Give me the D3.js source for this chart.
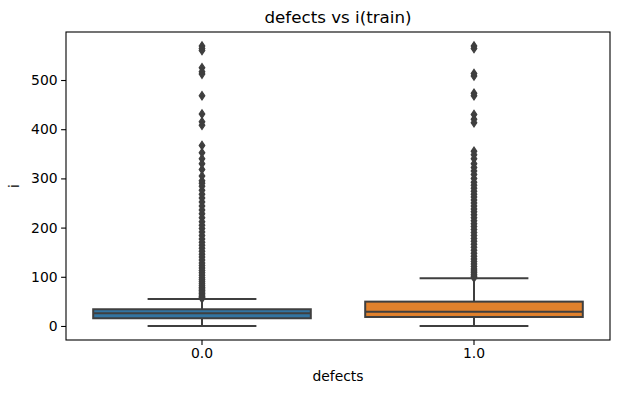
<!DOCTYPE html>
<html>
<meta charset="utf-8">
<style>
body { margin: 0; background: #fff; }
text { font-family: "DejaVu Sans", sans-serif; fill: #000; }
</style>
<body>
<script src="https://d3js.org/d3.v7.min.js"></script>
<script>
// categories and box stats
var categories = ["0.0", "1.0"];
var q1 = [15.7, 18.3];
var median = [25.8, 29];
var q3 = [34, 49.5];
var whiskLo = [0, 0];
var whiskHi = [55, 97];
var boxColors = ["#3274a1", "#e1812c"];

// fliers (estimated)
var fliers0 = [569, 564, 560, 525, 517, 512, 468, 431, 415, 408, 367, 352, 340, 330,
  318, 305, 295, 290, 284, 276, 268, 260, 252, 244, 236, 228, 220, 212, 205, 198,
  191, 184, 177, 170, 164, 158, 152, 146, 140, 134, 128, 123, 118, 113, 108, 103,
  98, 94, 90, 86, 82, 78, 75, 72, 69, 66, 63, 60, 58, 56];
var fliers1 = [569, 564, 513, 508, 473, 468, 430, 420, 413, 355, 348, 340, 330, 322,
  315, 308, 300, 292, 286, 280, 274, 268, 262, 256, 250, 244, 238, 232, 226, 220,
  214, 208, 202, 196, 190, 184, 178, 172, 166, 160, 154, 148, 142, 136, 131, 126,
  121, 116, 112, 108, 104, 101, 98];
var fliers = [fliers0, fliers1];

var yTicks = [0, 100, 200, 300, 400, 500];

var width = 618, height = 393;
var margin = {left: 66, right: 8, top: 32, bottom: 53};
var gray = "#3f3f3f";

var svg = d3.select("body").append("svg")
    .attr("width", width)
    .attr("height", height);

var x = d3.scaleBand()
    .domain(categories)
    .range([margin.left, width - margin.right]);

var y = d3.scaleLinear()
    .domain([-28.5, 597.6])
    .range([height - margin.bottom, margin.top]);

var bw = x.bandwidth();

var g = svg.selectAll(".box")
    .data(categories)
    .enter().append("g")
    .attr("class", "box");

// whiskers
g.append("line")
    .attr("x1", function(d) { return x(d) + bw / 2; })
    .attr("x2", function(d) { return x(d) + bw / 2; })
    .attr("y1", function(d, i) { return y(q3[i]); })
    .attr("y2", function(d, i) { return y(whiskHi[i]); })
    .style("stroke", gray).style("stroke-width", 2);
g.append("line")
    .attr("x1", function(d) { return x(d) + bw / 2; })
    .attr("x2", function(d) { return x(d) + bw / 2; })
    .attr("y1", function(d, i) { return y(q1[i]); })
    .attr("y2", function(d, i) { return y(whiskLo[i]); })
    .style("stroke", gray).style("stroke-width", 2);

// caps
[whiskHi, whiskLo].forEach(function(arr) {
  g.append("line")
      .attr("x1", function(d) { return x(d) + bw * 0.3; })
      .attr("x2", function(d) { return x(d) + bw * 0.7; })
      .attr("y1", function(d, i) { return y(arr[i]); })
      .attr("y2", function(d, i) { return y(arr[i]); })
      .style("stroke", gray).style("stroke-width", 2);
});

// boxes
g.append("rect")
    .attr("x", function(d) { return x(d) + bw * 0.1; })
    .attr("width", bw * 0.8)
    .attr("y", function(d, i) { return y(q3[i]); })
    .attr("height", function(d, i) { return y(q1[i]) - y(q3[i]); })
    .style("fill", function(d, i) { return boxColors[i]; })
    .style("stroke", gray).style("stroke-width", 2);

// medians
g.append("line")
    .attr("x1", function(d) { return x(d) + bw * 0.1; })
    .attr("x2", function(d) { return x(d) + bw * 0.9; })
    .attr("y1", function(d, i) { return y(median[i]); })
    .attr("y2", function(d, i) { return y(median[i]); })
    .style("stroke", gray).style("stroke-width", 2);

// fliers, thin diamonds
var diamond = "M0,-4.2L2.8,0L0,4.2L-2.8,0Z";
g.each(function(d, i) {
  d3.select(this).selectAll(".flier")
      .data(fliers[i])
      .enter().append("path")
      .attr("class", "flier")
      .attr("d", diamond)
      .attr("transform", function(v) { return "translate(" + (x(d) + bw / 2) + "," + y(v) + ")"; })
      .style("fill", gray)
      .style("stroke", gray)
      .style("stroke-width", 1.2);
});

// axes
var xAxis = svg.append("g")
    .attr("transform", "translate(0," + (height - margin.bottom) + ")")
    .call(d3.axisBottom(x).tickSize(4.9).tickPadding(3.5));
var yAxis = svg.append("g")
    .attr("transform", "translate(" + margin.left + ",0)")
    .call(d3.axisLeft(y).tickValues(yTicks).tickSize(4.9).tickPadding(3.5));

[xAxis, yAxis].forEach(function(a) {
  a.select(".domain").remove();
  a.selectAll("line").style("stroke", "#000").style("stroke-width", 1.1);
  a.selectAll("text").style("font-size", "13.9px").style("font-family", "DejaVu Sans").style("fill", "#000");
});

// frame
svg.append("rect")
    .attr("x", margin.left)
    .attr("y", margin.top)
    .attr("width", width - margin.left - margin.right)
    .attr("height", height - margin.top - margin.bottom)
    .style("fill", "none")
    .style("stroke", "#000")
    .style("stroke-width", 1.1);

// title and labels
svg.append("text")
    .attr("x", (margin.left + width - margin.right) / 2)
    .attr("y", 23)
    .attr("text-anchor", "middle")
    .style("font-size", "16.7px")
    .text("defects vs i(train)");

svg.append("text")
    .attr("x", (margin.left + width - margin.right) / 2)
    .attr("y", 381)
    .attr("text-anchor", "middle")
    .style("font-size", "13.9px")
    .text("defects");

svg.append("text")
    .attr("transform", "translate(19," + ((margin.top + height - margin.bottom) / 2) + ") rotate(-90)")
    .attr("text-anchor", "middle")
    .style("font-size", "13.9px")
    .text("i");
</script>
</body>
</html>
